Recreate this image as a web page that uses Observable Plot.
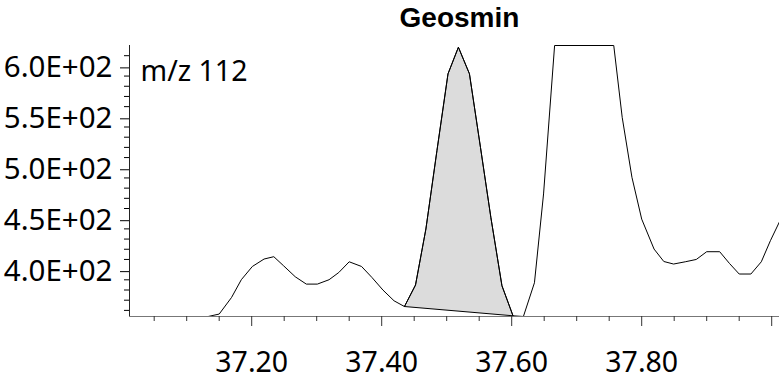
<!DOCTYPE html>
<html>
<head>
<meta charset="utf-8">
<script src="https://cdn.jsdelivr.net/npm/d3@7"></script>
<script src="https://cdn.jsdelivr.net/npm/@observablehq/plot@0.6"></script>
<style>
  html, body { margin: 0; padding: 0; background: white; }
</style>
</head>
<body>
<div id="chart"></div>
<script>
// Retention time (min) and intensity (counts)
const times = [
  37.000, 37.017, 37.033, 37.050, 37.067, 37.083, 37.100, 37.117, 37.133,
  37.150, 37.169, 37.184, 37.201, 37.219, 37.234, 37.249, 37.267, 37.284,
  37.301, 37.319, 37.334, 37.350, 37.369, 37.385, 37.402, 37.419, 37.435,
  37.452, 37.468, 37.485, 37.502, 37.518, 37.535, 37.552, 37.568, 37.585,
  37.602, 37.618, 37.635, 37.649, 37.666, 37.757, 37.770, 37.785, 37.800,
  37.819, 37.834, 37.849, 37.867, 37.884, 37.900, 37.920, 37.935, 37.950,
  37.968, 37.984, 37.998, 38.012
];
const intensity = [
  354, 354, 354, 354, 354, 354, 354, 354, 354,
  356.4, 372.7, 390.1, 403.1, 410.4, 412.7, 403.8, 393.0, 385.8,
  385.8, 390.1, 397.2, 407.7, 403.1, 392.3, 379.9, 369.4, 363.8,
  384.9, 439.9, 516.8, 592.2, 618.3, 592.2, 519.8, 451.0, 384.2,
  354.7, 354.0, 387.1, 474.3, 620, 620, 549.5, 490.6, 449.6,
  420.2, 408.0, 405.5, 407.7, 410.0, 417.6, 417.6, 406.1, 395.7,
  395.7, 407.7, 428.4, 447.0
];
// Integrated peak window (shaded)
const peakStart = 37.435;
const peakEnd = 37.602;

// Axes
const xDomain = [37.012, 38.012];
const yDomain = [354, 620];
const xTickLabels = [37.2, 37.4, 37.6, 37.8];
const xMajorTicks = [37.2, 37.4, 37.6, 37.8, 38.0];
const xMinorTicks = [37.05, 37.10, 37.15, 37.25, 37.30, 37.35, 37.45, 37.50, 37.55, 37.65, 37.70, 37.75, 37.85, 37.90, 37.95];
const yTickLabels = [400, 450, 500, 550, 600];
const yMinorTicks = [360, 370, 380, 390, 410, 420, 430, 440, 460, 470, 480, 490, 510, 520, 530, 540, 560, 570, 580, 590, 610];

const title = "Geosmin";
const ionLabel = "m/z 112";

const data = times.map((t, i) => ({t, v: intensity[i]}));
const peak = data.filter(d => d.t >= peakStart - 1e-9 && d.t <= peakEnd + 1e-9);
const chord = [{x1: peak[0].t, y1: peak[0].v, x2: peak[peak.length - 1].t, y2: peak[peak.length - 1].v}];

const sci = d => {
  const [m, e] = d.toExponential(1).split("e");
  return m + "E" + e[0] + e.slice(1).padStart(2, "0");
};

const chart = Plot.plot({
  width: 784,
  height: 380,
  marginLeft: 129,
  marginRight: 5,
  marginTop: 45,
  marginBottom: 64,
  x: {domain: xDomain},
  y: {domain: yDomain},
  style: {fontFamily: "'Noto Sans', sans-serif", fontSize: "28px", color: "black", background: "white", overflow: "visible"},
  marks: [
    Plot.line(peak, {x: "t", y: "v", fill: "#dcdcdc", stroke: "black", strokeWidth: 1}),
    Plot.link(chord, {x1: "x1", y1: "y1", x2: "x2", y2: "y2", stroke: "black", strokeWidth: 1}),
    Plot.ruleY([yDomain[0]], {stroke: "#777", strokeWidth: 1}),
    Plot.line(data, {x: "t", y: "v", stroke: "black", strokeWidth: 1, clip: true}),
    Plot.ruleX([xDomain[0]], {stroke: "#222", strokeWidth: 1}),
    Plot.axisX({ticks: xTickLabels, tickSize: 0, tickPadding: 35, tickFormat: d3.format(".2f"), label: null, fontSize: 28.5}),
    Plot.axisX({ticks: xMajorTicks, tickSize: 10, tickFormat: () => "", label: null, stroke: "#333"}),
    Plot.axisX({ticks: xMinorTicks, tickSize: 5, tickFormat: () => "", label: null, stroke: "#333"}),
    Plot.axisY({ticks: yTickLabels, tickSize: 9, tickPadding: 8, tickFormat: sci, label: null, dy: 2, fontSize: 29.5}),
    Plot.axisY({ticks: yMinorTicks, tickSize: 5, tickFormat: () => "", label: null}),
    Plot.text([title], {frameAnchor: "top", dx: 5, dy: -27, lineAnchor: "middle", fontWeight: "bold", fontFamily: "'Liberation Sans', Arial, sans-serif", fontSize: 28}),
    Plot.text([ionLabel], {frameAnchor: "top-left", dx: 11, dy: 26, textAnchor: "start", lineAnchor: "middle", fontSize: 28.5})
  ]
});
document.getElementById("chart").appendChild(chart);
</script>
</body>
</html>
